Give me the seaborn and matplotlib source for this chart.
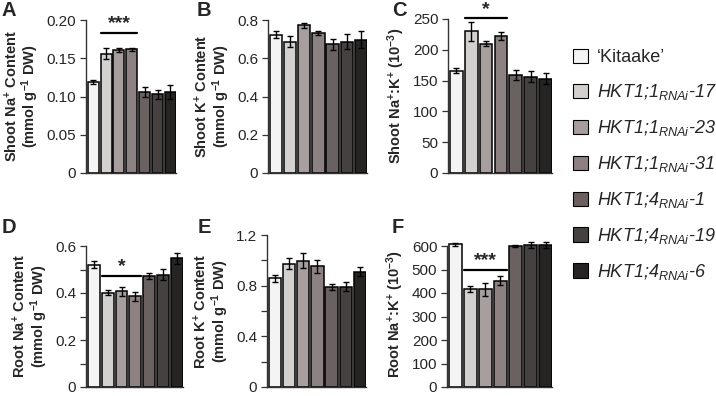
import numpy as np
import pandas as pd
import matplotlib
matplotlib.use("Agg")
import matplotlib.pyplot as plt
from matplotlib.patches import Patch
import seaborn as sns

# genotypes and bar colours
genotypes = ["Kitaake", "HKT1;1-17", "HKT1;1-23", "HKT1;1-31",
             "HKT1;4-1", "HKT1;4-19", "HKT1;4-6"]
legend_labels = ["\u2018Kitaake\u2019",
                 r"HKT1;1$_{\mathit{RNAi}}$-17", r"HKT1;1$_{\mathit{RNAi}}$-23",
                 r"HKT1;1$_{\mathit{RNAi}}$-31", r"HKT1;4$_{\mathit{RNAi}}$-1",
                 r"HKT1;4$_{\mathit{RNAi}}$-19", r"HKT1;4$_{\mathit{RNAi}}$-6"]
colors = ["#f4f4f4", "#d3cfcf", "#a89d9d", "#8e8080", "#6b605f", "#464040", "#262322"]

# means and SE
shoot_na = [0.119, 0.156, 0.161, 0.162, 0.106, 0.103, 0.106]
shoot_na_se = [0.003, 0.007, 0.003, 0.002, 0.006, 0.006, 0.009]
shoot_k = [0.724, 0.687, 0.772, 0.732, 0.672, 0.686, 0.698]
shoot_k_se = [0.02, 0.03, 0.012, 0.01, 0.03, 0.04, 0.045]
shoot_ratio = [166, 230, 210, 223, 159, 156, 153]
shoot_ratio_se = [4, 15, 4.5, 6.5, 7.5, 9, 9]
root_na = [0.521, 0.402, 0.407, 0.386, 0.472, 0.478, 0.548]
root_na_se = [0.016, 0.012, 0.02, 0.02, 0.014, 0.024, 0.024]
root_k = [0.858, 0.975, 0.998, 0.952, 0.788, 0.792, 0.910]
root_k_se = [0.03, 0.04, 0.06, 0.05, 0.025, 0.035, 0.035]
root_ratio = [607, 416, 415, 453, 600, 604, 606]
root_ratio_se = [5, 12, 28, 20, 5, 12, 13]

sns.set_style("ticks")
plt.rcParams["font.family"] = ["Liberation Sans", "DejaVu Sans"]
plt.rcParams["mathtext.fontset"] = "custom"
plt.rcParams["mathtext.rm"] = "Liberation Sans"
plt.rcParams["mathtext.it"] = "Liberation Sans:italic"
plt.rcParams["mathtext.bf"] = "Liberation Sans:bold"
plt.rcParams["mathtext.default"] = "regular"

W, H = 716, 396
fig = plt.figure(figsize=(W / 100, H / 100), dpi=100)


def panel(l, r, t, b):
    return fig.add_axes([l / W, 1 - b / H, (r - l) / W, (b - t) / H])


def bars(ax, vals, errs, ylim, ticks, minor=None, ylabel="", spine_top=None, ticklabels=None):
    df = pd.DataFrame({"genotype": genotypes, "value": vals})
    sns.barplot(data=df, x="genotype", y="value", hue="genotype", order=genotypes,
                palette=colors, width=0.86, edgecolor="black", linewidth=1.1,
                errorbar=None, legend=False, ax=ax)
    ax.errorbar(np.arange(len(vals)), vals, yerr=errs, fmt="none", ecolor="black",
                elinewidth=1, capsize=2, capthick=1)
    ax.set_xlim(-0.56, 6.43)
    ax.set_ylim(*ylim)
    ax.set_xticks([])
    ax.set_xlabel("")
    ax.set_yticks(ticks)
    if ticklabels is None:
        ticklabels = [("%g" % v) if v != 0 else "0" for v in ticks]
    ax.set_yticklabels(ticklabels)
    if minor is not None:
        ax.set_yticks(minor, minor=True)
    ax.tick_params(axis="y", which="both", direction="out", length=4.5, width=0.9,
                   labelsize=11, pad=2.5, color="#333333")
    sns.despine(ax=ax)
    for s in ["left", "bottom"]:
        ax.spines[s].set_linewidth(1.0)
        ax.spines[s].set_color("#333333")
    if spine_top is not None:
        ax.spines["left"].set_bounds(0, spine_top)
    ax.set_ylabel(ylabel, fontsize=10.5, fontweight="bold", labelpad=4, linespacing=0.95)


def signif(ax, y, stars):
    ax.plot([0.57, 3.43], [y, y], color="black", lw=1.6, clip_on=False)
    ax.annotate(stars, (2, y), xytext=(0, 0.5), textcoords="offset points",
                ha="center", va="bottom", fontsize=14, fontweight="bold",
                annotation_clip=False)


ax = panel(86, 176, 20, 173)
bars(ax, shoot_na, shoot_na_se, (0, 0.2), [0, 0.05, 0.10, 0.15, 0.20],
     ticklabels=["0", "0.05", "0.10", "0.15", "0.20"],
     ylabel="Shoot Na$^{\\mathbf{+}}$ Content\n(mmol g$^{\\mathbf{-1}}$ DW)")
signif(ax, 0.183, "***")

ax = panel(268, 367, 20, 173)
bars(ax, shoot_k, shoot_k_se, (0, 0.8), [0, 0.2, 0.4, 0.6, 0.8],
     ylabel="Shoot K$^{\\mathbf{+}}$ Content\n(mmol g$^{\\mathbf{-1}}$ DW)")

ax = panel(448, 552, 19, 173)
bars(ax, shoot_ratio, shoot_ratio_se, (0, 250), [0, 50, 100, 150, 200, 250],
     ylabel="Shoot Na$^{\\mathbf{+}}$:K$^{\\mathbf{+}}$ (10$^{\\mathbf{-3}}$)")
signif(ax, 251, "*")

ax = panel(86, 183, 246, 387)
bars(ax, root_na, root_na_se, (0, 0.6), [0, 0.2, 0.4, 0.6], minor=[0.1, 0.3, 0.5],
     ylabel="Root Na$^{\\mathbf{+}}$ Content\n(mmol g$^{\\mathbf{-1}}$ DW)")
signif(ax, 0.474, "*")

ax = panel(267, 366, 235, 387)
bars(ax, root_k, root_k_se, (0, 1.2), [0, 0.4, 0.8, 1.2], minor=[0.2, 0.6, 1.0],
     ylabel="Root K$^{\\mathbf{+}}$ Content\n(mmol g$^{\\mathbf{-1}}$ DW)")

ax = panel(447, 552, 387 - 141 * 620 / 600, 387)
bars(ax, root_ratio, root_ratio_se, (0, 620), [0, 100, 200, 300, 400, 500, 600],
     ylabel="Root Na$^{\\mathbf{+}}$:K$^{\\mathbf{+}}$ (10$^{\\mathbf{-3}}$)", spine_top=600)
signif(ax, 500, "***")

for letter, x, y in [("A", 2, 16), ("B", 197, 16), ("C", 392, 16),
                     ("D", 2, 233), ("E", 198, 233), ("F", 392, 233)]:
    fig.text(x / W, 1 - y / H, letter, fontsize=14.5, fontweight="bold", ha="left", va="baseline")

handles = [Patch(facecolor=c, edgecolor="black", linewidth=0.8) for c in colors]
leg = fig.legend(handles, legend_labels, loc="upper left", bbox_to_anchor=(573 / W, 1 - 49 / H),
                 frameon=False, fontsize=13, handlelength=0.85, handleheight=0.85,
                 handletextpad=0.5, labelspacing=0.88, borderaxespad=0, borderpad=0)
for i, t in enumerate(leg.get_texts()):
    if i > 0:
        t.set_fontstyle("italic")

fig.savefig("out.png", dpi=100)
